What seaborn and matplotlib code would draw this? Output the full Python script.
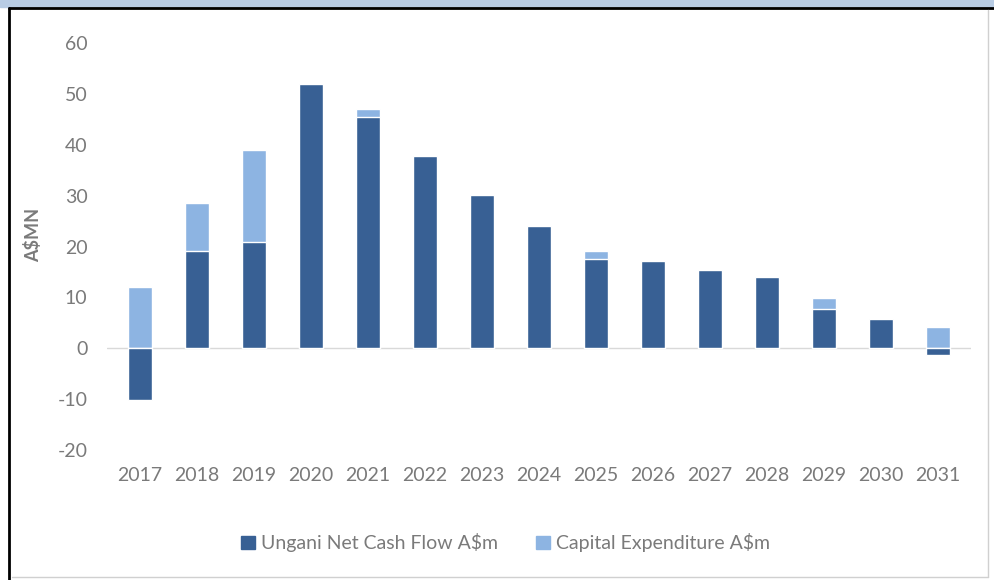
import seaborn as sns
import matplotlib.pyplot as plt
import pandas as pd
from matplotlib.patches import Patch, Rectangle
from matplotlib.lines import Line2D

years = ['2017', '2018', '2019', '2020', '2021', '2022', '2023', '2024',
         '2025', '2026', '2027', '2028', '2029', '2030', '2031']
net_cash_flow = [-10.2, 19.2, 20.9, 52.0, 45.4, 37.8, 30.1, 24.0,
                 17.5, 17.1, 15.4, 14.0, 7.8, 5.8, -1.4]
capex = [12.0, 9.4, 18.0, 0.0, 1.7, 0.0, 0.0, 0.0,
         1.7, 0.0, 0.0, 0.0, 2.0, 0.0, 4.2]

dark = '#386094'
light = '#8db4e2'
grey = '#7a7a7a'

df = pd.DataFrame({'year': years, 'net': net_cash_flow, 'capex': capex})
# capex sits on top of the positive part of the net bar
df['top'] = df['net'].clip(lower=0) + df['capex']

sns.set_style('white')
plt.rcParams['font.family'] = ['Lato', 'DejaVu Sans']
plt.rcParams['axes.unicode_minus'] = False

fig = plt.figure(figsize=(9.95, 5.8), dpi=100)
ax = fig.add_axes([0.1075, 0.2241, 0.8685, 0.7018])

sns.barplot(data=df, x='year', y='top', color=light, saturation=1, width=0.42, ax=ax)
sns.barplot(data=df, x='year', y='net', color=dark, saturation=1, width=0.42, ax=ax)

ax.set_xlim(-0.58, 14.58)
ax.set_ylim(-20, 60)
ax.set_yticks(range(-20, 61, 10))
ax.axhline(0, color='#d9d9d9', lw=1, zorder=0)
for s in ax.spines.values():
    s.set_visible(False)
ax.tick_params(axis='both', length=0, labelsize=14, labelcolor=grey)
ax.tick_params(axis='x', pad=12)
ax.tick_params(axis='y', pad=14)
ax.set_xlabel('')
ax.set_ylabel('A$MN', fontsize=13, fontweight='bold', color=grey)
ax.yaxis.set_label_coords(-0.075, 0.528)

handles = [Patch(color=dark, label='Ungani Net Cash Flow A$m'),
           Patch(color=light, label='Capital Expenditure A$m')]
fig.legend(handles=handles, loc='center', bbox_to_anchor=(0.508, 0.064), ncol=2,
           frameon=False, fontsize=14, labelcolor=grey, handlelength=0.7,
           handleheight=0.7, handletextpad=0.3, columnspacing=2.0)

# frame around the picture, as in the screenshot
fig.patches.append(Rectangle((0, 1 - 7 / 580), 1, 7 / 580, transform=fig.transFigure,
                             color='#b8cce4', zorder=0))
fig.lines.append(Line2D([9 / 995, 9 / 995], [0, 1 - 8 / 580], transform=fig.transFigure,
                        color='black', lw=2))
fig.lines.append(Line2D([9 / 995, 1], [1 - 8 / 580, 1 - 8 / 580], transform=fig.transFigure,
                        color='black', lw=2))
fig.lines.append(Line2D([988 / 995, 988 / 995], [3 / 580, 1 - 10 / 580], transform=fig.transFigure,
                        color='#d0d0d0', lw=1))
fig.lines.append(Line2D([12 / 995, 988 / 995], [3 / 580, 3 / 580], transform=fig.transFigure,
                        color='#d0d0d0', lw=1))

fig.savefig('out.png', dpi=100)
